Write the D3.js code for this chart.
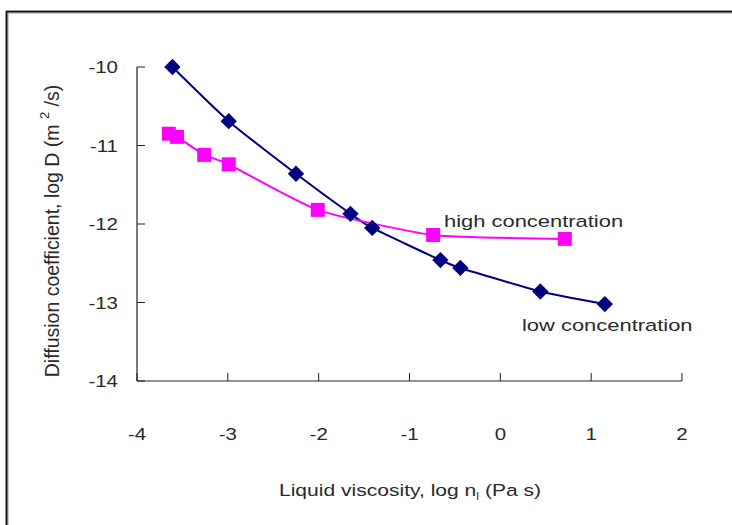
<!DOCTYPE html>
<html>
<head>
<meta charset="utf-8">
<script src="https://cdn.jsdelivr.net/npm/d3@7"></script>
<style>
html,body{margin:0;padding:0;background:#fff;}
svg{display:block;}
text{font-family:"Liberation Sans",Arial,sans-serif;fill:#2a2a2a;}
</style>
</head>
<body>
<svg id="chart" width="732" height="525"></svg>
<script>
// ---- data ----
const lowX = [-3.61, -2.99, -2.25, -1.65, -1.41, -0.66, -0.44, 0.44, 1.15];
const lowY = [-10.0, -10.69, -11.36, -11.87, -12.05, -12.46, -12.56, -12.86, -13.02];
const highX = [-3.65, -3.56, -3.26, -2.99, -2.01, -0.74, 0.71];
const highY = [-10.85, -10.89, -11.12, -11.24, -11.82, -12.14, -12.19];
const xTicks = [-4, -3, -2, -1, 0, 1, 2];
const yTicks = [-10, -11, -12, -13, -14];
const lowLabel = "low concentration";
const highLabel = "high concentration";

const svg = d3.select("#chart");
const SX = 1.24; // horizontal stretch of text as in reference

// frame
svg.append("path").attr("d","M7,525 L7,12 L732,12")
  .attr("fill","none").attr("stroke","#999").attr("stroke-width",3);
svg.append("path").attr("d","M6.5,525 L6.5,11.5 L732,11.5")
  .attr("fill","none").attr("stroke","#111").attr("stroke-width",1.6);

const x = d3.scaleLinear().domain([-4, 2]).range([137, 682]);
const y = d3.scaleLinear().domain([-14, -10]).range([381, 67]);

function stext(g, px, py, str, size, anchor, sx){
  return g.append("text")
    .attr("transform", `translate(${px},${py}) scale(${sx || SX},1)`)
    .attr("text-anchor", anchor)
    .attr("font-size", size)
    .text(str);
}

// axes
const ax = svg.append("g");
ax.append("line").attr("x1", x(-4)).attr("x2", x(2)).attr("y1", y(-14)).attr("y2", y(-14))
  .attr("stroke","#222").attr("stroke-width",1.2);
ax.append("line").attr("x1", x(-4)).attr("x2", x(-4)).attr("y1", y(-14)).attr("y2", y(-10))
  .attr("stroke","#222").attr("stroke-width",1.2);
xTicks.forEach(t => {
  ax.append("line").attr("x1", x(t)).attr("x2", x(t)).attr("y1", y(-14)).attr("y2", y(-14)-8)
    .attr("stroke","#222").attr("stroke-width",1);
  stext(ax, x(t), 440, String(t), 16.5, "middle");
});
yTicks.forEach(t => {
  ax.append("line").attr("x1", x(-4)).attr("x2", x(-4)+8).attr("y1", y(t)).attr("y2", y(t))
    .attr("stroke","#222").attr("stroke-width",1);
  stext(ax, 118, y(t)+6, String(t), 16.5, "end");
});

// axis titles
const xt = svg.append("text")
  .attr("transform", `translate(410,496) scale(${SX},1)`)
  .attr("text-anchor","middle").attr("font-size",17);
xt.append("tspan").text("Liquid viscosity, log n");
xt.append("tspan").attr("font-size",10).attr("dy",4).text("l");
xt.append("tspan").attr("dy",-4).text(" (Pa s)");

const yt = svg.append("text")
  .attr("transform", `translate(59,231) scale(1.05,1) rotate(-90)`)
  .attr("text-anchor","middle").attr("font-size",19.5);
yt.append("tspan").text("Diffusion coefficient, log D (m ");
yt.append("tspan").attr("font-size",13).attr("dy",-10).text("2");
yt.append("tspan").attr("dy",10).text(" /s)");

// series
const line = d3.line().x(d => x(d[0])).y(d => y(d[1])).curve(d3.curveCardinal.tension(0.45));
const low = lowX.map((v,i) => [v, lowY[i]]);
const high = highX.map((v,i) => [v, highY[i]]);

svg.append("path").datum(low).attr("d", line).attr("fill","none")
  .attr("stroke","#000080").attr("stroke-width",2);
svg.append("path").datum(high).attr("d", line).attr("fill","none")
  .attr("stroke","#ff00ff").attr("stroke-width",2);

svg.append("g").selectAll("rect").data(high).join("rect")
  .attr("x", d => x(d[0]) - 7).attr("y", d => y(d[1]) - 7)
  .attr("width",14).attr("height",14).attr("fill","#ff00ff");

const diamond = d3.symbol().type(d3.symbolDiamond2).size(170);
svg.append("g").selectAll("path").data(low).join("path")
  .attr("transform", d => `translate(${x(d[0])},${y(d[1])})`)
  .attr("d", diamond).attr("fill","#000080");

// annotations
stext(svg, 444, 227, highLabel, 17.4, "start", 1.26);
stext(svg, 522, 331, lowLabel, 17.4, "start", 1.26);
</script>
</body>
</html>
